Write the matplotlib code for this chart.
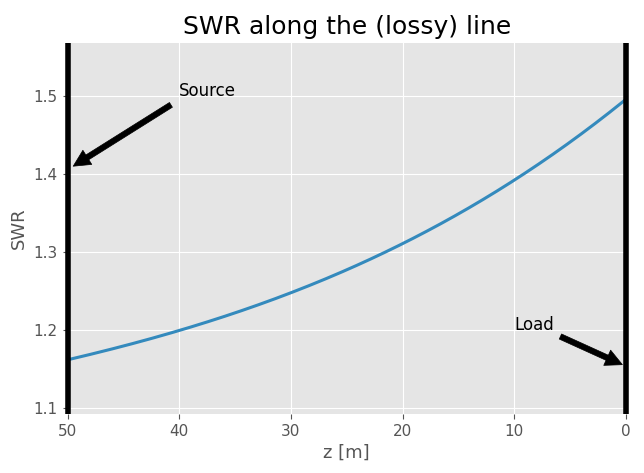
import matplotlib
matplotlib.use("Agg")
import matplotlib.pyplot as plt
import numpy as np

z = [50, 45, 40, 35, 30, 25, 20, 15, 10, 5, 0]
swr = [1.162, 1.179, 1.197, 1.221, 1.249, 1.278, 1.310, 1.348, 1.391, 1.440, 1.496]

plt.style.use("ggplot")
fig, ax = plt.subplots(figsize=(6.44, 4.73), dpi=100)
for s in ax.spines.values():
    s.set_visible(False)
coef = np.polyfit(z, swr, 3)
zz = np.linspace(50, 0, 200)
ax.plot(zz, np.polyval(coef, zz), color="#348ABD", lw=2.2)
ax.axvline(50, color="k", lw=4, clip_on=False, solid_capstyle="butt", zorder=5)
ax.axvline(0, color="k", lw=4, clip_on=False, solid_capstyle="butt", zorder=5)
ax.set_xlim(50, 0)
ax.set_ylim(1.092, 1.568)
ax.set_xlabel("z [m]", fontsize=13)
ax.set_ylabel("SWR", fontsize=13)
ax.set_title("SWR along the (lossy) line", fontsize=18)
ap = dict(facecolor="black", edgecolor="black", shrink=0.05, width=4, headwidth=12, headlength=12)
ax.annotate("Source", xy=(50, 1.405), xytext=(40, 1.5), fontsize=12, arrowprops=ap)
ax.annotate("Load", xy=(0, 1.153), xytext=(10, 1.2), fontsize=12, arrowprops=ap)
ax.tick_params(labelsize=11)
fig.subplots_adjust(left=0.105, right=0.972, top=0.91, bottom=0.125)
fig.savefig("out.png")
